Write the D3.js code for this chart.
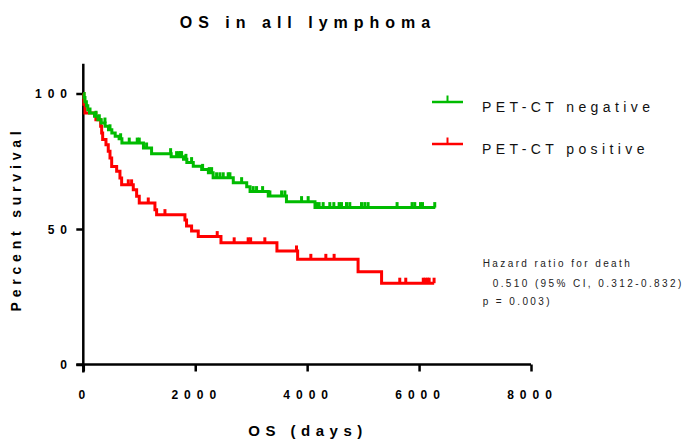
<!DOCTYPE html>
<html><head><meta charset="utf-8">
<script src="https://cdn.jsdelivr.net/npm/d3@7"></script>
<style>body{margin:0;background:#fff}svg text{font-family:"Liberation Sans",Arial,sans-serif}</style>
</head><body>
<svg id="c" width="697" height="441"></svg>
<script>
const titleText = "OS in all lymphoma";
const xTitle = "OS (days)";
const yTitle = "Percent survival";
const xTicks = [0, 2000, 4000, 6000, 8000];
const yTicks = [0, 50, 100];
const seriesNames = ["PET-CT negative", "PET-CT positive"];
const seriesColors = ["#00bb00", "#ff0000"];
const annotation = ["Hazard ratio for death", "0.510 (95% CI, 0.312-0.832)", "p = 0.003)"];

// PET-CT negative: step times (days) and survival (%) after each step
const negTimes = [0,15,30,55,80,110,200,260,320,390,450,510,570,640,690,1075,1220,1570,1790,1850,1965,2115,2235,2320,2680,2920,2980,3305,3630,4140];
const negSurv  = [100,98.5,97,95.5,94,92.8,91.6,90.3,89.1,87.9,86.6,85.4,84.2,83.3,81.7,79.9,77.8,76.7,75.7,74.5,73.2,72.0,70.8,68.9,67.1,65.6,63.8,62.2,60.1,57.9];
const negEnd = 6290;
const negCensor = [120,227,286,387,477,667,821,964,1000,1131,1560,1667,1709,1738,1757,1834,1935,2132,2250,2293,2382,2441,2500,2589,2620,2829,3036,3096,3204,3334,3543,3602,3900,4018,4168,4214,4286,4405,4477,4571,4614,4703,4762,4971,5030,5089,5607,5875,5923,6025,6061,6280];

// PET-CT positive
const posTimes = [0,10,30,225,310,328,346,405,446,477,507,596,655,685,893,953,1000,1280,1310,1816,1845,1935,2054,2460,3460,3830,4910,5330];
const posSurv  = [100,96,92.8,90.3,87.9,85.4,83.0,81.1,78.7,76.2,73.1,71.3,68.8,66.3,64.5,62.1,59.6,57.1,55.3,53.3,51.1,49.3,47.2,44.9,41.9,38.8,34.2,30.0];
const posEnd = 6270;
const posCensor = [804,863,1161,1459,2393,2696,2946,2990,3244,3810,4066,4334,4482,5655,5762,6075,6110,6150,6180,6268];

const svg = d3.select("#c");
const x = d3.scaleLinear().domain([0, 8000]).range([83.3, 531]);
const y = d3.scaleLinear().domain([0, 100]).range([364.5, 93.5]);

function survAt(times, surv, t) {
  let s = surv[0];
  for (let i = 0; i < times.length; i++) if (times[i] <= t) s = surv[i];
  return s;
}

// tick label metrics (12px bold digits, 6px letter spacing)
const DIGIT = 6.67, LS = 6;
const labW = s => s.length * DIGIT + (s.length - 1) * LS;
const fmt = d3.format("d");

// title
svg.append("text").attr("x", 308).attr("y", 28).attr("text-anchor", "middle")
  .style("font-size", "16px").style("font-weight", "bold").style("letter-spacing", "6px")
  .text(titleText);

// axes
const ax = svg.append("g").attr("transform", `translate(0,${y(0)})`)
  .call(d3.axisBottom(x).tickValues(xTicks).tickSize(7).tickFormat(fmt));
ax.select(".domain").remove();
ax.append("line").attr("x1", x(0) - 7).attr("x2", x(8000)).attr("stroke", "#000").attr("stroke-width", 2.5);
ax.selectAll(".tick line").attr("stroke", "#000").attr("stroke-width", 2.5);
ax.selectAll(".tick text").attr("y", 34.5).attr("dy", 0).attr("fill", "#000")
  .attr("text-anchor", "start")
  .attr("x", d => -2 - labW(fmt(d)) / 2)
  .style("font-size", "12px").style("font-weight", "bold").style("letter-spacing", LS + "px")
  .style("font-family", '"Liberation Sans",Arial,sans-serif');

const ay = svg.append("g").attr("transform", `translate(${x(0)},0)`)
  .call(d3.axisLeft(y).tickValues(yTicks).tickSize(7).tickFormat(fmt));
ay.select(".domain").remove();
ay.append("line").attr("y1", y(111)).attr("y2", y(0) + 8).attr("stroke", "#000").attr("stroke-width", 2.5);
ay.selectAll(".tick line").attr("stroke", "#000").attr("stroke-width", 2.5);
ay.selectAll(".tick text").attr("dy", "0.36em").attr("fill", "#000")
  .attr("text-anchor", "start")
  .attr("x", d => -16.3 - labW(fmt(d)))
  .style("font-size", "12px").style("font-weight", "bold").style("letter-spacing", LS + "px")
  .style("font-family", '"Liberation Sans",Arial,sans-serif');

svg.append("text").attr("x", 308).attr("y", 436).attr("text-anchor", "middle")
  .style("font-size", "15px").style("font-weight", "bold").style("letter-spacing", "5.5px")
  .text(xTitle);
svg.append("text").attr("transform", "translate(21,219) rotate(-90)").attr("text-anchor", "middle")
  .style("font-size", "14px").style("font-weight", "bold").style("letter-spacing", "4.8px")
  .text(yTitle);

// curves
const line = d3.line().x(d => x(d[0])).y(d => y(d[1])).curve(d3.curveStepAfter);
const series = [
  {times: posTimes, surv: posSurv, end: posEnd, censor: posCensor, color: seriesColors[1]},
  {times: negTimes, surv: negSurv, end: negEnd, censor: negCensor, color: seriesColors[0]}
];
series.forEach(s => {
  const pts = s.times.map((t, i) => [t, s.surv[i]]);
  pts.push([s.end, s.surv[s.surv.length - 1]]);
  svg.append("path").datum(pts).attr("d", line).attr("fill", "none")
    .attr("stroke", s.color).attr("stroke-width", 3);
  svg.append("g").selectAll("line").data(s.censor).join("line")
    .attr("x1", d => x(d)).attr("x2", d => x(d))
    .attr("y1", d => y(survAt(s.times, s.surv, d)))
    .attr("y2", d => y(survAt(s.times, s.surv, d)) - 5.5)
    .attr("stroke", s.color).attr("stroke-width", 3);
});

// legend
const legY = [102, 144];
seriesNames.forEach((n, i) => {
  const g = svg.append("g");
  g.append("line").attr("x1", 432).attr("x2", 463).attr("y1", legY[i]).attr("y2", legY[i])
    .attr("stroke", seriesColors[i]).attr("stroke-width", 2.5);
  g.append("line").attr("x1", 447.5).attr("x2", 447.5).attr("y1", legY[i]).attr("y2", legY[i] - 6.5)
    .attr("stroke", seriesColors[i]).attr("stroke-width", 2);
  g.append("text").attr("x", 482).attr("y", legY[i] + 10).style("font-size", "14px")
    .style("letter-spacing", "4.4px").attr("fill", "#111").text(n);
});

// annotation
const annX = [482.7, 492.7, 482.7];
const annY = [267.3, 286.7, 305];
annotation.forEach((t, i) => {
  svg.append("text").attr("x", annX[i]).attr("y", annY[i]).style("font-size", "10px")
    .style("letter-spacing", "2.4px").attr("fill", "#222").text(t);
});
</script>
</body></html>
